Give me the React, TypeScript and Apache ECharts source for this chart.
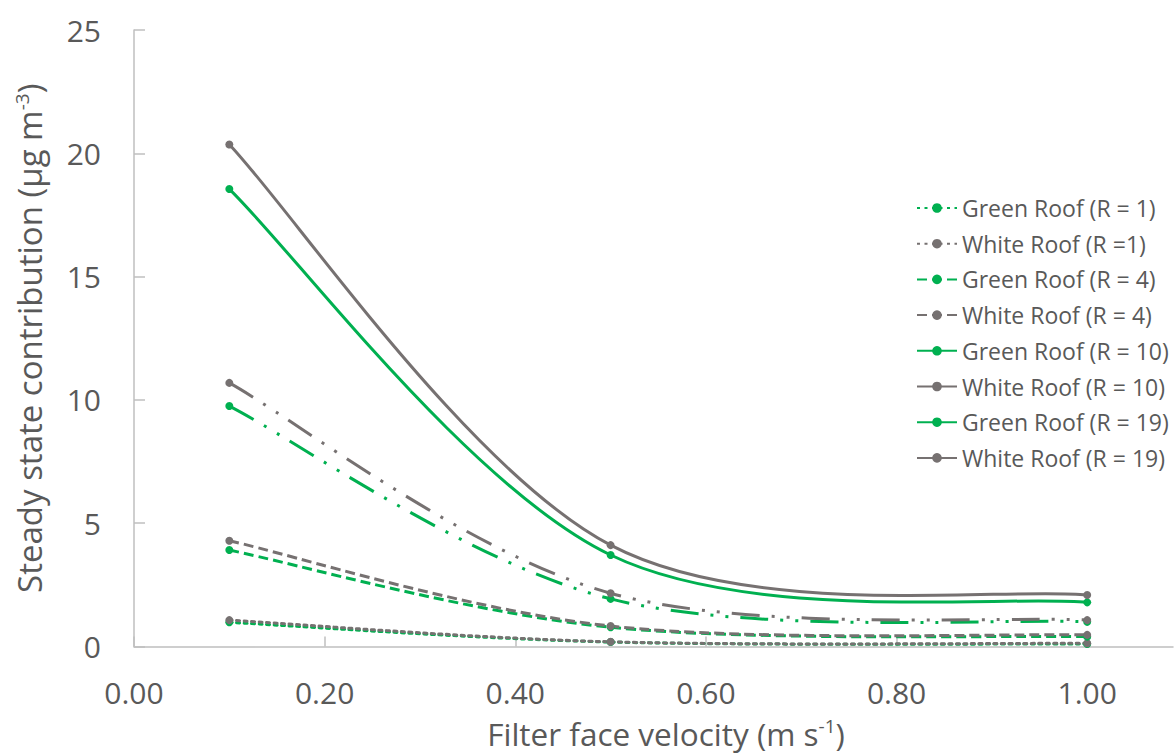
import React, { useEffect, useRef } from "react";
import * as echarts from "echarts";

// Filter face velocity (m s-1)
const velocities = [0.1, 0.5, 1.0];
const xTickValues = [0, 0.2, 0.4, 0.6, 0.8, 1.0];

const seriesNames = [
  "Green Roof (R = 1)",
  "White Roof (R =1)",
  "Green Roof (R = 4)",
  "White Roof (R = 4)",
  "Green Roof (R = 10)",
  "White Roof (R = 10)",
  "Green Roof (R = 19)",
  "White Roof (R = 19)",
];

const greenR1 = [0.98, 0.18, 0.1];
const whiteR1 = [1.07, 0.19, 0.13];
const greenR4 = [3.91, 0.78, 0.4];
const whiteR4 = [4.29, 0.83, 0.47];
const greenR10 = [9.75, 1.93, 1.0];
const whiteR10 = [10.69, 2.16, 1.07];
const greenR19 = [18.55, 3.71, 1.79];
const whiteR19 = [20.36, 4.11, 2.09];

const allValues = [greenR1, whiteR1, greenR4, whiteR4, greenR10, whiteR10, greenR19, whiteR19];

const GREEN = "#00b050";
const GRAY = "#767171";
const TEXT = "#595959";
const AXIS = "#bfbfbf";
const FONT = "Open Sans";

const dashTypes: any[] = [
  [3, 4.5],
  [3, 4.5],
  [10, 5],
  [10, 5],
  [28, 12, 3, 12, 3, 12],
  [28, 12, 3, 12, 3, 12],
  "solid",
  "solid",
];

// Excel-style smoothed path (Catmull-Rom as cubic Bezier) through pixel points
function smoothPath(pts: number[][]): string {
  const n = pts.length;
  const P = (k: number) => pts[Math.max(0, Math.min(n - 1, k))];
  let d = `M${pts[0][0]},${pts[0][1]}`;
  for (let i = 0; i < n - 1; i++) {
    const p0 = P(i - 1), p1 = P(i), p2 = P(i + 1), p3 = P(i + 2);
    const c1x = p1[0] + (p2[0] - p0[0]) / 6;
    const c1y = p1[1] + (p2[1] - p0[1]) / 6;
    const c2x = p2[0] - (p3[0] - p1[0]) / 6;
    const c2y = p2[1] - (p3[1] - p1[1]) / 6;
    d += ` C${c1x},${c1y} ${c2x},${c2y} ${p2[0]},${p2[1]}`;
  }
  return d;
}

export default function App() {
  const ref = useRef<HTMLDivElement>(null);
  useEffect(() => {
    document.body.style.margin = "0";
    const chart = echarts.init(ref.current!, null, { renderer: "svg" });
    const curveSeries = seriesNames.map((name, i) => {
      const color = i % 2 === 0 ? GREEN : GRAY;
      const dash = dashTypes[i];
      return {
        name: name + " curve",
        type: "custom",
        coordinateSystem: "cartesian2d",
        z: 2,
        silent: true,
        data: velocities.map((v, j) => [v, allValues[i][j]]),
        renderItem: (params: any, api: any) => {
          if (params.dataIndex !== 0) return null;
          const pts = velocities.map((v, j) => api.coord([v, allValues[i][j]]));
          return {
            type: "path",
            shape: { pathData: smoothPath(pts) },
            style: {
              fill: "none",
              stroke: color,
              lineWidth: 3,
              lineDash: Array.isArray(dash) ? dash : null,
              lineCap: i < 2 ? "round" : "butt",
            },
          };
        },
      };
    });
    const markerSeries = seriesNames.map((name, i) => {
      const color = i % 2 === 0 ? GREEN : GRAY;
      return {
        name,
        type: "line",
        z: 3,
        symbol: "circle",
        symbolSize: 8,
        data: velocities.map((v, j) => [v, allValues[i][j]]),
        itemStyle: { color },
        lineStyle: { color, width: 3, type: dashTypes[i], opacity: 0 },
        emphasis: { disabled: true },
      };
    });
    const option: any = {
      animation: false,
      textStyle: { fontFamily: FONT },
      grid: { left: 134, right: 1, top: 30, bottom: 108.5 },
      legend: {
        orient: "vertical",
        left: 916,
        top: 196,
        padding: 0,
        itemWidth: 40,
        itemHeight: 12,
        itemGap: 11.7,
        textStyle: { color: TEXT, fontSize: 23, fontFamily: FONT, lineHeight: 24 },
        data: seriesNames.map((n, i) => ({
          name: n,
          lineStyle: { opacity: 1, type: i === 4 || i === 5 ? "solid" : dashTypes[i] },
        })),
      },
      xAxis: {
        type: "value",
        min: 0,
        max: 1.09,
        interval: 0.2,
        splitLine: { show: false },
        axisLine: { show: true, lineStyle: { color: AXIS, width: 1.5 } },
        axisTick: { show: true, inside: true, length: 10, lineStyle: { color: AXIS, width: 1.5 }, customValues: xTickValues },
        axisLabel: {
          color: TEXT,
          fontSize: 30,
          fontFamily: FONT,
          margin: 31,
          customValues: xTickValues,
          formatter: (v: number) => v.toFixed(2),
        },
        name: "Filter face velocity (m s{sup|-1})",
        nameLocation: "middle",
        nameGap: 70,
        nameTextStyle: {
          color: TEXT,
          fontSize: 31.5,
          fontFamily: FONT,
          padding: [0, 0, 0, 25],
          rich: { sup: { fontSize: 19, color: TEXT, fontFamily: FONT, verticalAlign: "top", padding: [0, 0, 15, 0] } },
        },
      },
      yAxis: {
        type: "value",
        min: 0,
        max: 25,
        interval: 5,
        splitLine: { show: false },
        axisLine: { show: true, lineStyle: { color: AXIS, width: 1.5 } },
        axisTick: { show: true, inside: true, length: 11, lineStyle: { color: AXIS, width: 1.5 } },
        axisLabel: { color: TEXT, fontSize: 30, fontFamily: FONT, margin: 33 },
        name: "Steady state contribution (μg m{sup|-3})",
        nameLocation: "middle",
        nameGap: 88,
        nameTextStyle: {
          color: TEXT,
          fontSize: 33,
          fontFamily: FONT,
          rich: { sup: { fontSize: 19, color: TEXT, fontFamily: FONT, verticalAlign: "top", padding: [0, 0, 15, 0] } },
        },
      },
      series: [...curveSeries, ...markerSeries],
    };
    chart.setOption(option);
    return () => chart.dispose();
  }, []);
  return <div ref={ref} style={{ width: 1174, height: 755 }} />;
}
